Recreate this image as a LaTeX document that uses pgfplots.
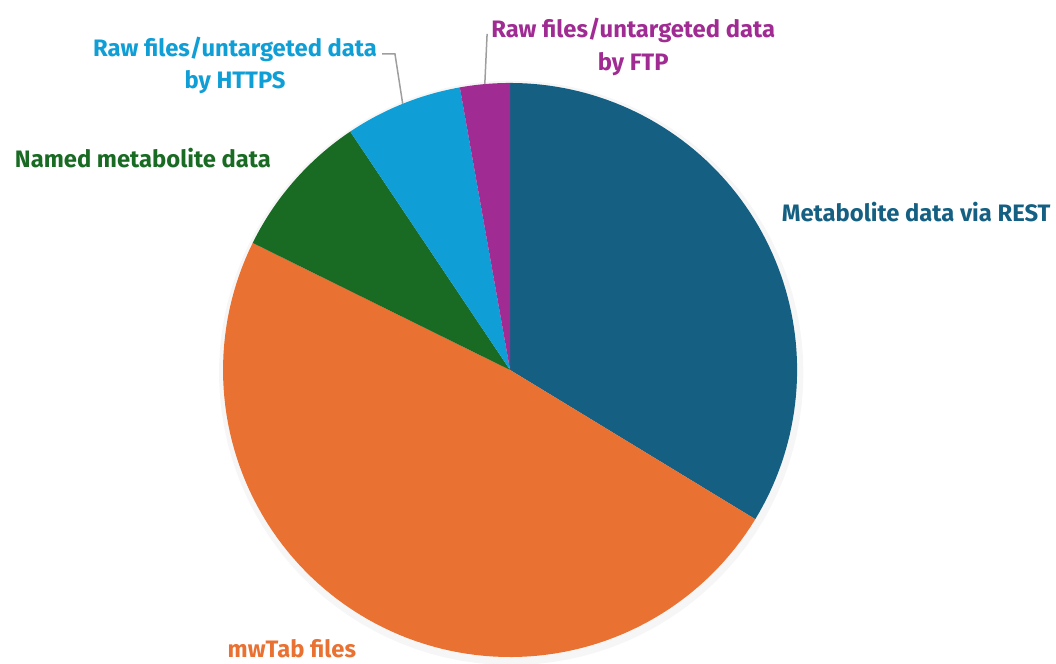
\documentclass[border=0pt]{standalone}
\usepackage{fontspec}
\setmainfont{Fira Sans}
\usepackage{pgfplots}
\pgfplotsset{compat=1.18}
\definecolor{cREST}{HTML}{156082}
\definecolor{cMW}{HTML}{E97132}
\definecolor{cNamed}{HTML}{196B24}
\definecolor{cHTTPS}{HTML}{0F9ED5}
\definecolor{cFTP}{HTML}{A02B93}
\begin{document}
\begin{tikzpicture}
% slice shares (percent), clockwise from 12 o'clock
\pgfmathsetmacro\vA{33.7}% Metabolite data via REST
\pgfmathsetmacro\vB{48.6}% mwTab files
\pgfmathsetmacro\vC{8.3}%  Named metabolite data
\pgfmathsetmacro\vD{6.6}%  Raw files by HTTPS
\pgfmathsetmacro\vE{2.8}%  Raw files by FTP
\pgfmathsetmacro\aO{90}
\pgfmathsetmacro\aA{\aO-3.6*\vA}
\pgfmathsetmacro\aB{\aA-3.6*\vB}
\pgfmathsetmacro\aC{\aB-3.6*\vC}
\pgfmathsetmacro\aD{\aC-3.6*\vD}
\pgfmathsetmacro\aE{\aD-3.6*\vE}
\begin{axis}[x=143.5pt,y=143.5pt,
  xmin=-1.777,xmax=1.902,ymin=-1.021,ymax=1.289,
  hide axis, clip=false]
\addplot[draw=none, fill=black, fill opacity=0.035, domain=0:360, samples=120]
  ({0.004+1.018*cos(x)},{-0.010+1.018*sin(x)}) -- cycle;
\addplot[draw=none, fill=cREST, domain=\aA:\aO, samples=80]
  ({cos(x)},{sin(x)}) -- (axis cs:0,0) -- cycle;
\addplot[draw=none, fill=cMW, domain=\aB:\aA, samples=100]
  ({cos(x)},{sin(x)}) -- (axis cs:0,0) -- cycle;
\addplot[draw=none, fill=cNamed, domain=\aC:\aB, samples=30]
  ({cos(x)},{sin(x)}) -- (axis cs:0,0) -- cycle;
\addplot[draw=none, fill=cHTTPS, domain=\aD:\aC, samples=30]
  ({cos(x)},{sin(x)}) -- (axis cs:0,0) -- cycle;
\addplot[draw=none, fill=cFTP, domain=\aE:\aD, samples=20]
  ({cos(x)},{sin(x)}) -- (axis cs:0,0) -- cycle;
% leader lines
\draw[color=black!38, line width=0.75pt] (axis cs:-0.446,1.101) -- (axis cs:-0.401,1.101) -- (axis cs:-0.374,0.927);
\draw[color=black!38, line width=0.75pt] (axis cs:-0.080,1.171) -- (axis cs:-0.088,0.996);
% labels
\tikzset{lbl/.style={anchor=base, inner sep=0pt, font=\bfseries\fontsize{11.9}{14}\selectfont}}
\node[lbl, text=cHTTPS] at (axis cs:-0.958,1.091) {Raw files/untargeted data};
\node[lbl, text=cHTTPS] at (axis cs:-0.958,0.979) {by HTTPS};
\node[lbl, text=cFTP] at (axis cs:0.429,1.160) {Raw files/untargeted data};
\node[lbl, text=cFTP] at (axis cs:0.429,1.045) {by FTP};
\node[lbl, text=cNamed] at (axis cs:-1.279,0.707) {Named metabolite data};
\node[lbl, text=cREST] at (axis cs:1.415,0.516) {Metabolite data via REST};
\node[lbl, text=cMW] at (axis cs:-0.760,-1.000) {mwTab files};
\end{axis}
\pgfresetboundingbox
\path (current axis.south west) rectangle (current axis.north east);
\end{tikzpicture}
\end{document}
